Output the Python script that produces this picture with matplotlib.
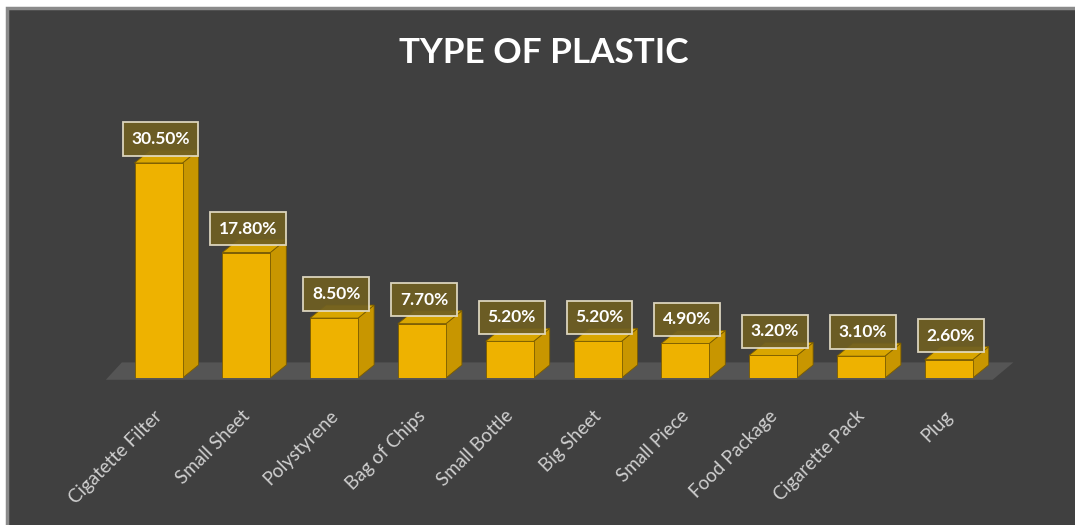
import matplotlib.pyplot as plt
import matplotlib.transforms as mtransforms
from matplotlib.patches import Polygon, Rectangle

categories = ["Cigatette Filter", "Small Sheet", "Polystyrene", "Bag of Chips",
              "Small Bottle", "Big Sheet", "Small Piece", "Food Package",
              "Cigarette Pack", "Plug"]
values = [30.5, 17.8, 8.5, 7.7, 5.2, 5.2, 4.9, 3.2, 3.1, 2.6]
value_labels = ["30.50%", "17.80%", "8.50%", "7.70%", "5.20%",
                "5.20%", "4.90%", "3.20%", "3.10%", "2.60%"]

W, H = 1075, 525
bg = "#404040"
front_col = "#eeb200"
side_col = "#c89600"
top_col = "#d9a600"
edge_col = "#7a5c00"

fig = plt.figure(figsize=(W / 100, H / 100), dpi=100)
fig.patch.set_facecolor("white")

# dark panel with a grey frame, white strip on top and left only
fig.patches.append(Rectangle((7 / W, -0.1), 1.2, (H - 8) / H + 0.1, transform=fig.transFigure,
                             facecolor=bg, edgecolor="#8a8a8a", linewidth=2.5, zorder=-5))

# axes placed so index 0 sits at the first bar and value 0 on the floor line
x0_px, step_px = 158.5, 87.8
left_px = x0_px - 0.5 * step_px
y0_px = 378
px_per_val = 7.05
ytop = 38
ax = fig.add_axes([left_px / W, (H - y0_px) / H, 10 * step_px / W, ytop * px_per_val / H])
ax.set_zorder(2)
ax.set_xlim(-0.5, 9.5)
ax.set_ylim(0, ytop)
ax.patch.set_alpha(0)
for s in ax.spines.values():
    s.set_visible(False)

bw = 48 / step_px
dx = 16 / step_px
dy = 13 / px_per_val

# floor
ax.add_patch(Polygon([(-0.5 - 0.1, -0.25), (9.5, -0.25), (9.5 + dx * 1.3, dy * 1.2),
                      (-0.5 - 0.1 + dx, dy * 1.2)],
                     closed=True, facecolor="#555555", edgecolor="none", zorder=1, clip_on=False))

xs = list(range(len(values)))
for x, v, lab in zip(xs, values, value_labels):
    l, r = x - bw / 2, x + bw / 2
    # side face
    ax.add_patch(Polygon([(r, 0), (r + dx, dy), (r + dx, v + dy), (r, v)], closed=True,
                         facecolor=side_col, edgecolor=edge_col, linewidth=0.6, zorder=2))
    # top face
    ax.add_patch(Polygon([(l, v), (r, v), (r + dx, v + dy), (l + dx, v + dy)], closed=True,
                         facecolor=top_col, edgecolor=edge_col, linewidth=0.6, zorder=2))
    # front face
    ax.bar(x, v, width=bw, color=front_col, edgecolor=edge_col, linewidth=0.6, zorder=3)
    ax.annotate(lab, (x, v), xytext=(2, 24), textcoords="offset pixels",
                ha="center", va="center", color="white", fontsize=12.5,
                fontweight="bold", family="Lato", zorder=5,
                bbox=dict(boxstyle="square,pad=0.5", facecolor="#6f5f22", alpha=0.92,
                          edgecolor="#e6dfc8", linewidth=1.3))

ax.set_xticks(xs)
ax.set_xticklabels(categories, rotation=45, ha="right", rotation_mode="anchor",
                   color="#cfcfcf", fontsize=13.5, family="Lato")
ax.tick_params(axis="x", length=0, pad=21)
shift = mtransforms.ScaledTranslation(-5 / 100, 0, fig.dpi_scale_trans)
for t in ax.get_xticklabels():
    t.set_transform(t.get_transform() + shift)
ax.set_yticks([])

fig.text(544 / W, 1 - 53 / H, "TYPE OF PLASTIC", ha="center", va="center",
         color="white", fontsize=25.3, fontweight="bold", family="Lato")

fig.savefig("out.png", dpi=100, facecolor=fig.get_facecolor())
